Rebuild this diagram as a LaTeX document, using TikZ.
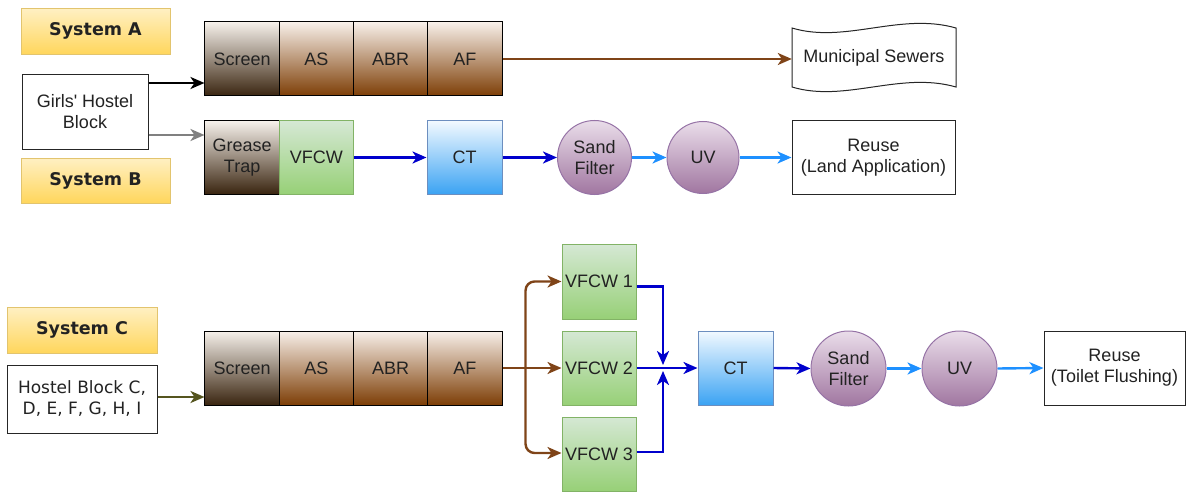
\documentclass[tikz,border=0pt]{standalone}
\usepackage{fontspec}
\setmainfont{Liberation Sans}
\newfontfamily\verd{DejaVu Sans}
\usetikzlibrary{arrows.meta,calc}
\definecolor{txt}{HTML}{222222}
\definecolor{brownline}{HTML}{7F4418}
\definecolor{oliveline}{HTML}{55551F}
\definecolor{dblue}{HTML}{0000CC}
\definecolor{lblue}{HTML}{1E90FF}
\definecolor{grayline}{HTML}{808080}
\tikzset{
  base/.style={inner sep=0pt, align=center, text=txt, font=\fontsize{18}{21}\selectfont},
  syslabel/.style={base, draw={rgb,255:red,226;green,196;blue,110}, line width=0.9pt, shading=axis, top color={rgb,255:red,255;green,240;blue,195}, bottom color={rgb,255:red,255;green,214;blue,92}, minimum width=149pt, font=\verd\bfseries\fontsize{17.5}{21}\selectfont},
  plainbox/.style={base, draw=black!85, line width=1pt, fill=white},
  darkcell/.style={base, draw=black, line width=1pt, shading=axis, top color={rgb,255:red,246;green,241;blue,235}, bottom color={rgb,255:red,58;green,37;blue,16}, minimum width=74.25pt, minimum height=74pt},
  browncell/.style={base, draw=black, line width=1pt, shading=axis, top color={rgb,255:red,248;green,240;blue,234}, bottom color={rgb,255:red,125;green,62;blue,6}, minimum width=74.25pt, minimum height=74pt},
  greenbox/.style={base, draw={rgb,255:red,130;green,179;blue,102}, line width=1pt, shading=axis, top color={rgb,255:red,213;green,232;blue,212}, bottom color={rgb,255:red,151;green,208;blue,119}, minimum width=74pt, minimum height=74pt},
  bluebox/.style={base, draw={rgb,255:red,108;green,142;blue,191}, line width=1pt, shading=axis, top color={rgb,255:red,242;green,249;blue,255}, bottom color={rgb,255:red,59;green,163;blue,243}, minimum width=75pt, minimum height=73pt},
  purplecirc/.style={base, circle, draw={rgb,255:red,150;green,115;blue,166}, line width=1pt, shading=axis, top color={rgb,255:red,234;green,221;blue,234}, bottom color={rgb,255:red,160;green,118;blue,160}, minimum size=74pt},
  arr/.style={line width=2.4pt, -{Stealth[length=14pt,width=12pt,inset=4pt]}},
}
\begin{document}
\begin{tikzpicture}[x=1pt,y=-1pt]
\useasboundingbox (0,0) rectangle (1188,492);

% ---- System A / B ----
\node[syslabel, minimum height=46pt] (sysA) at (95.5,31.3) {System A};
\node[syslabel, minimum height=45pt] (sysB) at (95.5,180.5) {System B};
\node[plainbox, minimum width=126pt, minimum height=74pt] (girls) at (85,112) {Girls\textquotesingle\ Hostel\\Block};

\node[darkcell] (scrA) at (242.1,59) {Screen};
\node[browncell] (asA) at (316.4,59) {AS};
\node[browncell] (abrA) at (390.6,59) {ABR};
\node[browncell] (afA) at (464.9,59) {AF};

% tape shape
\draw[black!85, line width=1pt, fill=white]
  (792,28) .. controls (845,44) and (900,12) .. (956,28)
  -- (956,87) .. controls (900,71) and (845,103) .. (792,87) -- cycle;
\node[base, minimum width=164pt, minimum height=70pt] (sew) at (874,58) {Municipal Sewers};

\node[darkcell, minimum height=73pt] (grease) at (242.1,157.5) {Grease\\Trap};
\node[greenbox, minimum width=74.25pt, minimum height=73pt] (vfcwB) at (316.4,157.5) {VFCW};
\node[bluebox] (ctB) at (464.5,157.5) {CT};
\node[purplecirc] (sandB) at (594.5,157.5) {Sand\\Filter};
\node[purplecirc, minimum size=72pt] (uvB) at (703,157.5) {UV};
\node[plainbox, minimum width=163pt, minimum height=73pt] (reuseB) at (873.5,157.5) {Reuse\\(Land Application)};

\coordinate (g1) at ([yshift=29pt]girls.east);
\draw[arr, black] (g1) -- (g1 -| scrA.west);
\coordinate (g2) at ([yshift=-23pt]girls.east);
\draw[arr, grayline] (g2) -- (g2 -| grease.west);
\draw[arr, brownline] (afA.east) -- (afA.east -| sew.west);
\draw[arr, dblue] (vfcwB.east) -- (ctB.west);
\draw[arr, dblue] (ctB.east) -- (sandB.west);
\draw[arr, lblue] (sandB.east) -- (uvB.west);
\draw[arr, lblue] (uvB.east) -- (reuseB.west);

% ---- System C ----
\node[syslabel, minimum width=150pt, minimum height=46pt] (sysC) at (82,330) {System C};
\node[plainbox, minimum width=150pt, minimum height=68pt, font=\verd\fontsize{17}{21}\selectfont] (hostC) at (82,399) {Hostel Block C,\\D, E, F, G, H, I};

\node[darkcell] (scrC) at (242.1,368) {Screen};
\node[browncell] (asC) at (316.4,368) {AS};
\node[browncell] (abrC) at (390.6,368) {ABR};
\node[browncell] (afC) at (464.9,368) {AF};

\node[greenbox, minimum height=75pt] (v1) at (599,281.5) {VFCW 1};
\node[greenbox] (v2) at (599,368) {VFCW 2};
\node[greenbox] (v3) at (599,454) {VFCW 3};
\node[bluebox, minimum height=74pt] (ctC) at (735.5,368) {CT};
\node[purplecirc, minimum size=75pt] (sandC) at (848.5,368.5) {Sand\\Filter};
\node[purplecirc, minimum size=75pt] (uvC) at (959.5,368.5) {UV};
\node[plainbox, minimum width=141pt, minimum height=74pt] (reuseC) at (1114.5,368) {Reuse\\(Toilet Flushing)};

\coordinate (h1) at ([yshift=2pt]hostC.east);
\draw[arr, oliveline] (h1) -- (h1 -| scrC.west);

\coordinate (tr) at ($(afC.east)+(23,0)$);
\draw[arr, brownline] (afC.east) -- (v2.west);
\draw[arr, brownline, rounded corners=9pt] (tr) |- (v1.west);
\draw[arr, brownline, rounded corners=9pt] (tr) |- ([yshift=1pt]v3.west);

\coordinate (j) at (663,368);
\draw[arr, dblue] ([yshift=-5pt]v1.east) -| ([yshift=3pt]j);
\draw[arr, dblue] ([yshift=2pt]v3.east) -| ([yshift=-3pt]j);
\draw[arr, dblue] (v2.east) -- (ctC.west);
\draw[arr, dblue] (ctC.east) -- (sandC.west);
\draw[arr, lblue] (sandC.east) -- (uvC.west);
\draw[arr, lblue] (uvC.east) -- (reuseC.west);
\end{tikzpicture}
\end{document}
